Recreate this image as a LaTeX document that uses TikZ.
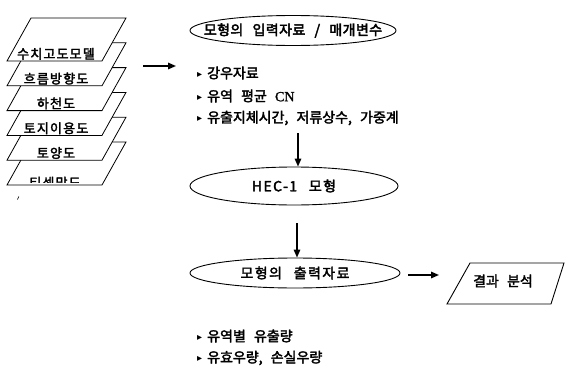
\documentclass[tikz,border=0pt]{standalone}
\usepackage{fontspec}
\setmainfont{Noto Sans CJK KR}[WordSpace=2.6,FakeBold=2.5]
\newfontfamily\symfont{DejaVu Sans}
\newfontfamily\serifcn{Liberation Serif}[FakeBold=1.5]
\newfontfamily\krbold{Noto Sans CJK KR}[FakeBold=3,WordSpace=2.6,LetterSpace=3]
\newfontfamily\krell{Noto Sans CJK KR}[FakeBold=2.5,WordSpace=2.6,LetterSpace=10]
\newfontfamily\krsheet{Noto Sans CJK KR}[LetterSpace=9,FakeBold=2.5]
\usetikzlibrary{shapes.geometric,arrows.meta}
\tikzset{
  sheet/.style={draw, line width=0.8pt, fill=white, line join=miter},
  sheetlabel/.style={anchor=base, inner sep=0pt, font=\krsheet\fontsize{13pt}{13pt}\selectfont},
  ell/.style={ellipse, draw, line width=0.9pt, inner sep=0pt},
  arr/.style={line width=1.6pt, -{Triangle[length=8pt,width=6.5pt]}},
  item/.style={anchor=west, inner sep=0pt, font=\fontsize{14pt}{16pt}\selectfont},
}
\newcommand{\bul}{\raisebox{1.2pt}{\symfont\fontsize{10pt}{10pt}\selectfont ▸}\hspace{5pt}}
\begin{document}
\begin{tikzpicture}[x=1pt,y=-1pt]
\useasboundingbox (0,0) rectangle (566,367);

% stacked layers (bottom one first)
\draw[sheet] (31,142) -- (126,142) -- (102,185) -- (7,185) -- cycle;
\begin{scope}
  \clip (0,165) rectangle (130,182.3);
  \node[sheetlabel] (s5) at (55,187.5) {티센망도};
\end{scope}
\foreach \k/\lab in {4/토양도,3/토지이용도,2/하천도,1/흐름방향도,0/수치고도모델} {
  \pgfmathsetmacro\yt{18+24.8*\k}
  \pgfmathsetmacro\yb{\yt+43}
  \draw[sheet] (31,\yt) -- (126,\yt) -- (102,\yb) -- (7,\yb) -- cycle;
  \node[sheetlabel] (s\k) at (56,\yb-2.3) {\lab};
}
\draw[line width=0.6pt] (17.5,199.5) -- (18.8,196.5);

% arrow from layers
\coordinate (a0s) at (143,66);
\coordinate (a0e) at (176,66);
\draw[arr] (a0s) -- (a0e);

% input ellipse
\node[ell, minimum width=206pt, minimum height=30pt] (in) at (293,30.5) {};
\node[inner sep=0pt, font=\krbold\fontsize{14pt}{16pt}\selectfont] (intext) at (in.center) {모형의 입력자료 / 매개변수};

% input items
\node[item] (i1) at (197,73) {\bul 강우자료};
\node[item] (i2) at (197,96) {\bul 유역 평균 {\serifcn CN}};
\node[item] (i3) at (197,118) {\bul 유출지체시간, 저류상수, 가중계};

% HEC-1 ellipse
\node[ell, minimum width=208pt, minimum height=38pt] (hec) at (294,186) {};
\node[inner sep=0pt, font=\krell\fontsize{14pt}{16pt}\selectfont] (hectext) at (hec.center) {HEC-1 모형};

% output ellipse
\node[ell, minimum width=210pt, minimum height=30pt] (out) at (295,273) {};
\node[inner sep=0pt, font=\krell\fontsize{14pt}{16pt}\selectfont] (outtext) at (out.center) {모형의 출력자료};

% arrows
\coordinate (a1s) at (298,133);
\draw[arr] (a1s) -- (a1s |- hec.north);
\coordinate (a2s) at (297,223);
\draw[arr] (a2s) -- (a2s |- out.north);
\coordinate (a3s) at (408,275);
\coordinate (a3e) at (439,275);
\draw[arr] (a3s) -- (a3e);

% result parallelogram
\draw[line width=0.9pt, line join=miter] (470,263) -- (564,263) -- (551,304) -- (447,304) -- cycle;
\node[inner sep=0pt, font=\fontsize{14pt}{16pt}\selectfont] (res) at (503,281) {결과 분석};

% output items
\node[item] (o1) at (197,336) {\bul 유역별 유출량};
\node[item] (o2) at (197,358) {\bul 유효우량, 손실우량};
\end{tikzpicture}
\end{document}
